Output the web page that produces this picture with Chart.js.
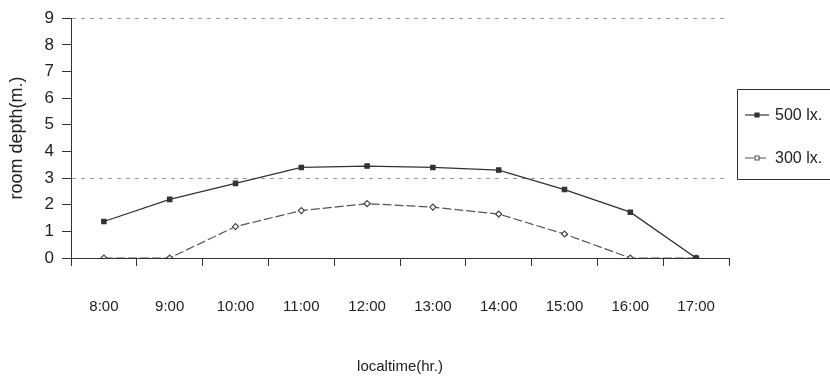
<!DOCTYPE html>
<html>
<head>
<meta charset="utf-8">
<script src="https://cdn.jsdelivr.net/npm/chart.js@4/dist/chart.umd.min.js"></script>
<style>
  html, body { margin: 0; padding: 0; background: #fff; overflow: hidden; }
  #wrap { position: relative; width: 830px; height: 377px; }
</style>
</head>
<body>
<div id="wrap"><canvas id="depthChart"></canvas></div>
<script>
const hours = ['8:00', '9:00', '10:00', '11:00', '12:00', '13:00', '14:00', '15:00', '16:00', '17:00'];
const depth500 = [1.37, 2.2, 2.8, 3.4, 3.45, 3.4, 3.3, 2.57, 1.72, 0];
const depth300 = [0, 0, 1.18, 1.78, 2.04, 1.91, 1.65, 0.9, 0, 0];
const seriesNames = ['500 lx.', '300 lx.'];
const gridValues = [3, 9];

const FONT = "'Liberation Sans', Arial, sans-serif";
const INK = '#333';

// legend box sits at the right edge, partly cut off
const boxLegend = {
  id: 'boxLegend',
  afterDraw(chart) {
    const ctx = chart.ctx;
    const x0 = 737, y0 = 89, y1 = 179;
    ctx.save();
    ctx.strokeStyle = INK;
    ctx.lineWidth = 1;
    ctx.beginPath();
    ctx.moveTo(chart.width + 30, y0 + 0.5);
    ctx.lineTo(x0 + 0.5, y0 + 0.5);
    ctx.lineTo(x0 + 0.5, y1 + 0.5);
    ctx.lineTo(chart.width + 30, y1 + 0.5);
    ctx.stroke();

    const rows = [115, 158];
    chart.data.datasets.forEach((ds, i) => {
      const y = rows[i];
      ctx.strokeStyle = ds.borderColor;
      ctx.lineWidth = 1.2;
      ctx.setLineDash(ds.borderDash || []);
      ctx.beginPath();
      ctx.moveTo(745, y);
      ctx.lineTo(769, y);
      ctx.stroke();
      ctx.setLineDash([]);
      ctx.fillStyle = ds.pointBackgroundColor;
      ctx.beginPath();
      ctx.rect(755, y - 2, 4, 4);
      ctx.fill();
      ctx.stroke();
      ctx.fillStyle = '#222';
      ctx.font = '16px ' + FONT;
      ctx.textBaseline = 'middle';
      ctx.fillText(ds.label, 775, y + 1);
    });
    ctx.restore();
  }
};

new Chart(document.getElementById('depthChart'), {
  type: 'line',
  data: {
    labels: hours,
    datasets: [
      {
        label: seriesNames[0],
        data: depth500,
        borderColor: INK,
        borderWidth: 1.3,
        pointStyle: 'rect',
        pointRadius: 3,
        pointBackgroundColor: INK,
        pointBorderColor: INK,
        tension: 0
      },
      {
        label: seriesNames[1],
        data: depth300,
        borderColor: '#555',
        borderWidth: 1.2,
        borderDash: [9, 3],
        pointStyle: 'rectRot',
        pointRadius: 3,
        pointBackgroundColor: '#fff',
        pointBorderColor: '#444',
        tension: 0
      }
    ]
  },
  plugins: [boxLegend],
  options: {
    responsive: true,
    maintainAspectRatio: false,
    animation: false,
    layout: { padding: { left: 0, right: 101, top: 12, bottom: 0 } },
    plugins: {
      legend: { display: false },
      tooltip: { enabled: false }
    },
    scales: {
      x: {
        offset: true,
        afterFit(scale) { scale.height = 119; },
        grid: {
          offset: true,
          drawOnChartArea: false,
          tickLength: 8,
          tickColor: INK
        },
        border: { color: INK, width: 1 },
        ticks: {
          color: '#222',
          padding: 32,
          maxRotation: 0,
          font: { family: FONT, size: 15 }
        },
        title: {
          display: true,
          text: 'localtime(hr.)',
          color: '#222',
          padding: { top: 0, bottom: 1 },
          font: { family: FONT, size: 15 }
        }
      },
      y: {
        min: 0,
        max: 9,
        afterFit(scale) { scale.width = 71; },
        grid: {
          tickLength: 9,
          tickColor: INK,
          color: (c) => gridValues.includes(c.tick && c.tick.value) ? '#999' : 'rgba(0,0,0,0)',
          lineWidth: 1
        },
        border: { color: INK, width: 1, dash: [4, 5], display: true },
        ticks: {
          stepSize: 1,
          color: '#222',
          padding: 8,
          font: { family: FONT, size: 17 }
        },
        title: {
          display: true,
          text: 'room depth(m.)',
          color: '#222',
          padding: { top: 6, bottom: 0 },
          font: { family: FONT, size: 18 }
        }
      }
    }
  }
});
</script>
</body>
</html>
